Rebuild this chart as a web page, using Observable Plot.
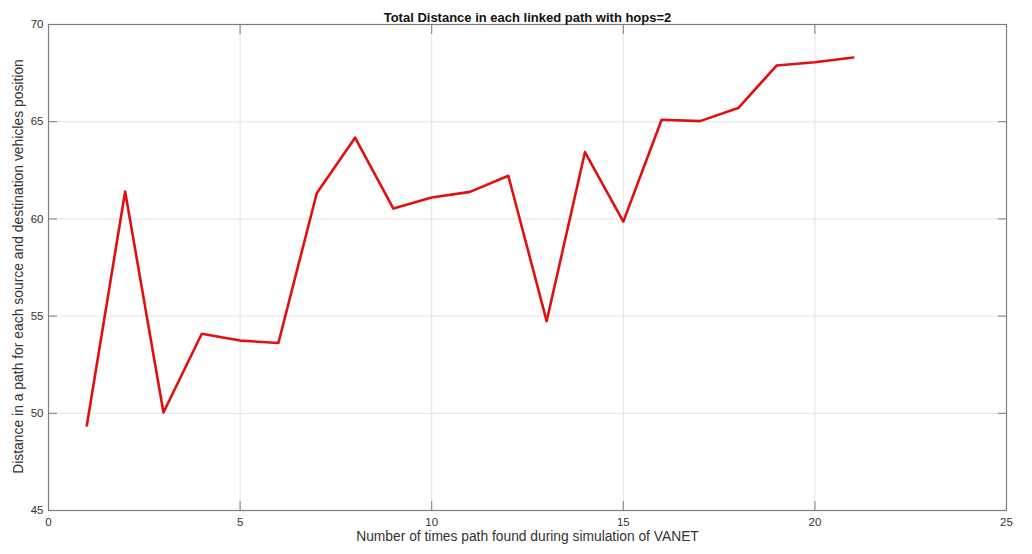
<!DOCTYPE html>
<html>
<head>
<meta charset="utf-8">
<script src="https://cdn.jsdelivr.net/npm/d3@7"></script>
<script src="https://cdn.jsdelivr.net/npm/@observablehq/plot@0.6"></script>
<style>
  html, body { margin: 0; padding: 0; background: #fff; }
  #chart svg { display: block; }
</style>
</head>
<body>
<div id="chart"></div>
<script>
// Path index (number of times a path was found)
const pathIndex = [1, 2, 3, 4, 5, 6, 7, 8, 9, 10, 11, 12, 13, 14, 15, 16, 17, 18, 19, 20, 21];
// Total distance of each linked path (hops = 2)
const totalDistance = [49.37, 61.41, 50.04, 54.09, 53.74, 53.62, 61.32, 64.18, 60.53, 61.10, 61.39,
                       62.22, 54.74, 63.44, 59.86, 65.10, 65.03, 65.70, 67.89, 68.06, 68.30];

const xTicks = [0, 5, 10, 15, 20, 25];
const yTicks = [45, 50, 55, 60, 65, 70];

const titleText = "Total Distance in each linked path with hops=2";
const xLabel = "Number of times path found during simulation of VANET";
const yLabel = "Distance in a path for each source and destination vehicles position";

const data = pathIndex.map((x, i) => ({x, y: totalDistance[i]}));

const frameColor = "#7d7d7d";
const gridColor = "#e3e3e3";
const textColor = "#333333";

const chart = Plot.plot({
  width: 1032,
  height: 554,
  marginLeft: 48,
  marginRight: 26,
  marginTop: 24,
  marginBottom: 44,
  x: {domain: [0, 25]},
  y: {domain: [45, 70]},
  style: {fontFamily: "'Liberation Sans', Arial, sans-serif", fontSize: "11.5px", color: textColor, background: "#fff"},
  marks: [
    Plot.gridX(xTicks, {stroke: gridColor, strokeOpacity: 1}),
    Plot.gridY(yTicks, {stroke: gridColor, strokeOpacity: 1}),
    // inward tick marks on all four sides
    Plot.axisX(xTicks, {anchor: "bottom", tickSize: -9, text: null, label: null, stroke: frameColor}),
    Plot.axisX(xTicks, {anchor: "top", tickSize: -9, text: null, label: null, stroke: frameColor}),
    Plot.axisY(yTicks, {anchor: "left", tickSize: -9, text: null, label: null, stroke: frameColor}),
    Plot.axisY(yTicks, {anchor: "right", tickSize: -9, text: null, label: null, stroke: frameColor}),
    // tick labels
    Plot.axisX(xTicks, {anchor: "bottom", tickSize: 0, tickPadding: 7, label: null, fill: textColor}),
    Plot.axisY(yTicks, {anchor: "left", tickSize: 0, tickPadding: 5, label: null, fill: textColor}),
    Plot.frame({stroke: frameColor, strokeWidth: 1.2}),
    Plot.line(data, {x: "x", y: "y", stroke: "#e01010", strokeWidth: 2.6}),
    // title and axis labels
    Plot.text([titleText], {frameAnchor: "top", dy: -12, fontWeight: "bold", fontSize: 13, fill: "#111"}),
    Plot.text([xLabel], {frameAnchor: "bottom", dy: 30, fontSize: 13.8, fill: textColor}),
    Plot.text([yLabel], {frameAnchor: "left", textAnchor: "middle", rotate: -90, dx: -30, dy: -1, fontSize: 13.9, fill: textColor})
  ]
});

document.getElementById("chart").appendChild(chart);
</script>
</body>
</html>
